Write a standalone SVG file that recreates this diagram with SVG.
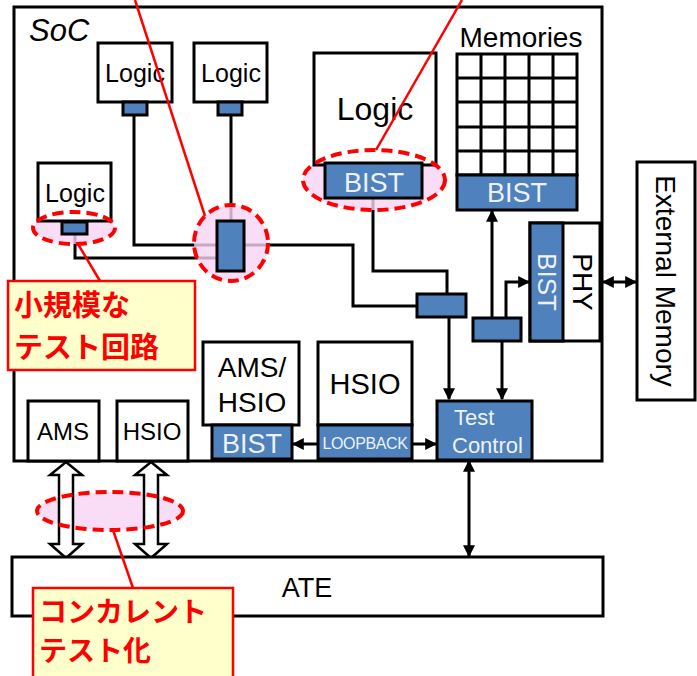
<svg xmlns="http://www.w3.org/2000/svg" width="697" height="676" viewBox="0 0 697 676">
<defs>
<marker id="ah" viewBox="0 0 10 10" refX="9" refY="5" markerWidth="4" markerHeight="4" orient="auto-start-reverse" markerUnits="strokeWidth"><path d="M0,0 L10,5 L0,10 z" fill="#000"/></marker>
<style>
.box{fill:#fff;stroke:#000;stroke-width:3}
.blue{fill:#4f81bd;stroke:#000;stroke-width:3}
.t{font-family:"Liberation Sans",Arial,sans-serif;fill:#000;text-anchor:middle}
.w{font-family:"Liberation Sans",Arial,sans-serif;fill:#eef2f8;text-anchor:middle}
.ln{fill:none;stroke:#000;stroke-width:3}
.ar{fill:none;stroke:#000;stroke-width:3;marker-end:url(#ah)}
.ar2{fill:none;stroke:#000;stroke-width:3;marker-end:url(#ah);marker-start:url(#ah)}
.hol{fill:#fff;stroke:#000;stroke-width:2.5;stroke-linejoin:miter}
.hf{fill:#f8d4f4;fill-opacity:0.8;stroke:none}
.hs{fill:none;stroke:#f00;stroke-width:4;stroke-dasharray:11 6}
.call{fill:#ffffcc;stroke:#f00;stroke-width:2.5}
.jp{font-family:"Noto Sans CJK JP",sans-serif;font-weight:bold;fill:#f00}
.rl{stroke:#f00;stroke-width:2.5;fill:none}
</style>
</defs>

<rect width="697" height="676" fill="#fff"/>

<g id="soc">
<rect x="14" y="7" width="588" height="454" class="box"/>
<text x="29" y="41" font-family="Liberation Sans, Arial, sans-serif" font-style="italic" font-size="31">SoC</text>
</g>

<g id="highlight-fill-bottom">
<ellipse cx="110" cy="511" rx="73" ry="19" class="hf"/>
</g>

<g id="connectors">
<path class="ln" d="M134,115 V245 H353 V306 H417"/>
<path class="ln" d="M231,115 V221"/>
<path class="ln" d="M75,234 V258 H217"/>
<path class="ln" d="M373,198 V271 H447 V294"/>
<path class="ar" d="M449,317 V399"/>
<path class="ar" d="M502,341 V399"/>
<path class="ar" d="M492,318 V211"/>
<path class="ar" d="M506,318 V282 H529"/>
<path class="ar" d="M318,444 H293"/>
<path class="ar" d="M412,444 H436"/>
<path class="ar2" d="M603,282 H636"/>
<path class="ar2" d="M469,461 V556"/>
<path class="hol" d="M66,462 L82,475 L73,475 L73,544 L82,544 L66,558 L50,544 L59,544 L59,475 L50,475 Z"/>
<path class="hol" d="M151,462 L167,475 L158,475 L158,544 L167,544 L151,558 L135,544 L144,544 L144,475 L135,475 Z"/>
</g>

<g id="highlight-fill">
<ellipse cx="74" cy="228" rx="41" ry="16" class="hf"/>
<ellipse cx="231" cy="243" rx="37" ry="38" class="hf"/>
<ellipse cx="374" cy="180" rx="71" ry="30" class="hf"/>
</g>

<g id="logic1">
<rect x="98" y="43" width="74" height="59" class="box"/>
<text x="135" y="82" class="t" font-size="25">Logic</text>
<rect x="123" y="102" width="24" height="13" class="blue" stroke-width="2.5"/>
</g>
<g id="logic2">
<rect x="194" y="43" width="73" height="59" class="box"/>
<text x="231" y="82" class="t" font-size="25">Logic</text>
<rect x="218" y="102" width="24" height="13" class="blue" stroke-width="2.5"/>
</g>
<g id="logic3">
<rect x="38" y="163" width="73" height="58" class="box"/>
<text x="75" y="202" class="t" font-size="25">Logic</text>
<rect x="62" y="222" width="25" height="12" class="blue" stroke-width="2.5"/>
</g>
<g id="mux1">
<rect x="217" y="221" width="27" height="50" class="blue"/>
</g>
<g id="logic-big">
<rect x="314" y="53" width="122" height="112" class="box"/>
<text x="375" y="120" class="t" font-size="32">Logic</text>
<rect x="325" y="163" width="97" height="35" class="blue"/>
<text x="374" y="192" class="w" font-size="27">BIST</text>
</g>
<g id="memories">
<text x="521" y="47" class="t" font-size="28">Memories</text>
<rect x="457" y="54" width="120" height="121" class="box"/>
<path class="ln" d="M481,54 V175 M505,54 V175 M529,54 V175 M553,54 V175 M457,78 H577 M457,102 H577 M457,127 H577 M457,151 H577"/>
<rect x="457" y="175" width="120" height="35" class="blue"/>
<text x="517" y="202" class="w" font-size="27">BIST</text>
</g>
<g id="phy">
<rect x="530" y="223" width="70" height="118" class="box"/>
<rect x="530" y="223" width="33" height="118" class="blue"/>
<text transform="translate(547,282) rotate(90)" y="9" class="w" font-size="26">BIST</text>
<text transform="translate(583,282) rotate(90)" y="10" class="t" font-size="28">PHY</text>
</g>
<g id="external-memory">
<rect x="637" y="162" width="58" height="238" class="box"/>
<text transform="translate(666,281) rotate(90)" y="10" class="t" font-size="28">External Memory</text>
</g>
<g id="mux2">
<rect x="417" y="294" width="49" height="23" class="blue"/>
</g>
<g id="mux3">
<rect x="473" y="318" width="48" height="23" class="blue"/>
</g>
<g id="test-control">
<rect x="437" y="401" width="95" height="59" class="blue"/>
<text font-family="Liberation Sans, Arial, sans-serif" fill="#eef2f8" font-size="22"><tspan x="454" y="425">Test</tspan><tspan x="452" y="453">Control</tspan></text>
</g>
<g id="ams-hsio">
<rect x="203" y="342" width="96" height="83" class="box"/>
<text class="t" font-size="28"><tspan x="252" y="377">AMS/</tspan><tspan x="252" y="412">HSIO</tspan></text>
<rect x="212" y="425" width="80" height="34" class="blue"/>
<text x="252" y="453" class="w" font-size="27">BIST</text>
</g>
<g id="hsio">
<rect x="318" y="342" width="94" height="83" class="box"/>
<text x="365" y="394" class="t" font-size="29">HSIO</text>
<rect x="318" y="425" width="94" height="34" class="blue"/>
<text x="365" y="449" class="w" font-size="16" letter-spacing="-0.4">LOOPBACK</text>
</g>
<g id="ams">
<rect x="28" y="401" width="71" height="60" class="box"/>
<text x="63" y="440" class="t" font-size="24">AMS</text>
</g>
<g id="hsio-small">
<rect x="117" y="401" width="71" height="60" class="box"/>
<text x="152" y="440" class="t" font-size="24">HSIO</text>
</g>
<g id="ate">
<rect x="12" y="557" width="591" height="59" class="box"/>
<text x="307" y="597" class="t" font-size="27">ATE</text>
</g>

<g id="highlight-stroke">
<ellipse cx="74" cy="228" rx="41" ry="16" class="hs"/>
<ellipse cx="231" cy="243" rx="37" ry="38" class="hs"/>
<ellipse cx="374" cy="180" rx="71" ry="30" class="hs"/>
<ellipse cx="110" cy="511" rx="73" ry="19" class="hs"/>
</g>

<g id="callout-lines">
<line x1="135" y1="0" x2="205" y2="216" class="rl"/>
<line x1="462" y1="0" x2="376" y2="150" class="rl"/>
<line x1="78" y1="244" x2="100" y2="281" class="rl"/>
<line x1="113" y1="530" x2="133" y2="588" class="rl"/>
</g>

<g id="callout-small">
<rect x="8" y="281" width="187" height="89" class="call"/>
<text class="jp" font-size="29"><tspan x="14" y="316">小規模な</tspan><tspan x="14" y="358">テスト回路</tspan></text>
</g>
<g id="callout-concurrent">
<rect x="33" y="588" width="200" height="100" class="call"/>
<text class="jp" font-size="28"><tspan x="39" y="622">コンカレント</tspan><tspan x="39" y="661">テスト化</tspan></text>
</g>
</svg>
